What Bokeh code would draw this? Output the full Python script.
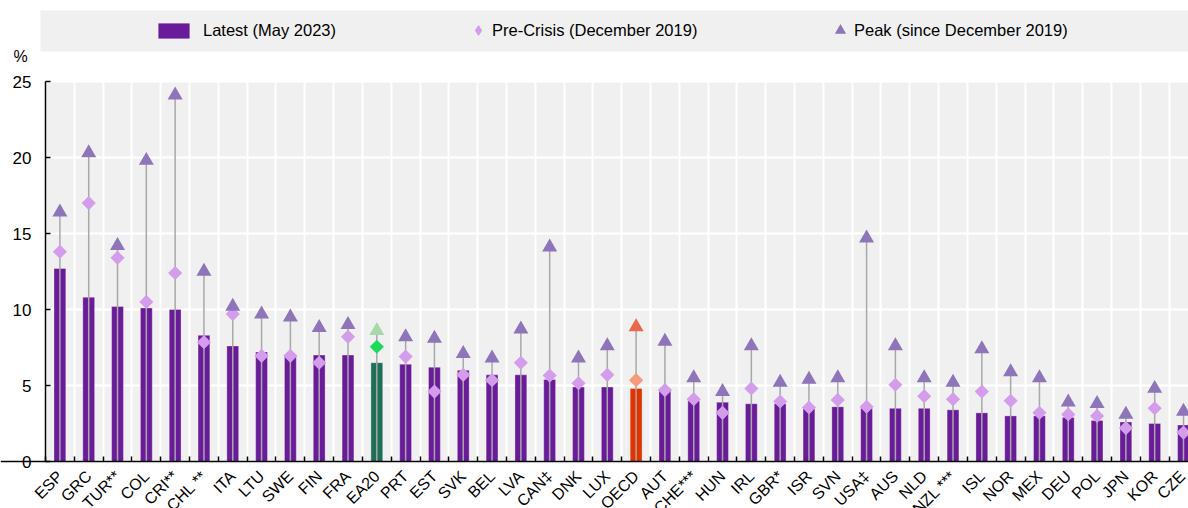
import numpy as np
from math import pi
from bokeh.plotting import figure
from bokeh.models import (ColumnDataSource, Range1d, FixedTicker, Label, BoxAnnotation,
                          Legend, LegendItem)
from bokeh.layouts import column
from bokeh.embed import file_html
from bokeh.resources import INLINE

# ---------------- data ----------------
countries = ["ESP", "GRC", "TUR**", "COL", "CRI**", "CHL **", "ITA", "LTU", "SWE", "FIN",
             "FRA", "EA20", "PRT", "EST", "SVK", "BEL", "LVA", "CAN‡", "DNK", "LUX",
             "OECD", "AUT", "CHE***", "HUN", "IRL", "GBR*", "ISR", "SVN", "USA‡", "AUS",
             "NLD", "NZL ***", "ISL", "NOR", "MEX", "DEU", "POL", "JPN", "KOR", "CZE"]
latest = [12.7, 10.8, 10.2, 10.1, 10.0, 8.3, 7.6, 7.2, 7.0, 7.0,
          7.0, 6.5, 6.4, 6.2, 6.0, 5.7, 5.7, 5.4, 4.9, 4.9,
          4.8, 4.7, 4.0, 3.9, 3.8, 3.8, 3.5, 3.6, 3.5, 3.5,
          3.5, 3.4, 3.2, 3.0, 3.0, 2.9, 2.7, 2.6, 2.5, 2.4]
pre_crisis = [13.8, 17.0, 13.4, 10.5, 12.4, 7.85, 9.7, 6.95, 6.95, 6.5,
              8.2, 7.55, 6.9, 4.6, 5.7, 5.35, 6.5, 5.65, 5.15, 5.7,
              5.35, 4.7, 4.1, 3.2, 4.8, 3.95, 3.55, 4.05, 3.6, 5.05,
              4.3, 4.1, 4.6, 4.0, 3.2, 3.1, 3.0, 2.2, 3.5, 1.9]
peak = [16.4, 20.3, 14.2, 19.8, 24.1, 12.5, 10.2, 9.7, 9.5, 8.8,
        9.0, 8.6, 8.2, 8.1, 7.1, 6.8, 8.7, 14.1, 6.8, 7.6,
        8.85, 7.9, 5.5, 4.6, 7.6, 5.2, 5.4, 5.5, 14.7, 7.6,
        5.5, 5.2, 7.4, 5.9, 5.5, 3.9, 3.8, 3.1, 4.8, 3.3]
legend_labels = ["Latest (May 2023)", "Pre-Crisis (December 2019)", "Peak (since December 2019)"]
y_ticks = [0, 5, 10, 15, 20, 25]
unit_label = "%"

# ---------------- styles / layout ----------------
FONT = "Liberation Sans"
BG = "#F0F0F0"
DEFAULT_COLS = ("#6A1B9A", "#D49DEB", "#8E74B8")
HIGHLIGHT = {"EA20": ("#1F6F57", "#1EDC5A", "#A8D8A8"),
             "OECD": ("#E23200", "#F59A7A", "#E8694E")}
PAGE_W, PAGE_H = 1188, 508
STRIP_H = 71            # legend strip height (page px)
FRAME_LEFT = 45         # page x of the y axis
FRAME_TOP = 81          # page y of y = 25
AXIS_Y = 461            # page y of y = 0
CAT_PX = 28.81          # width of one category slot in px
Y_MAX = 25

px_per_unit = (AXIS_Y - FRAME_TOP) / Y_MAX
y_min = -(PAGE_H - AXIS_Y) / px_per_unit
y_top = Y_MAX + (FRAME_TOP - STRIP_H) / px_per_unit
x_start = -FRAME_LEFT / CAT_PX
x_end = (PAGE_W - FRAME_LEFT) / CAT_PX

n = len(countries)
xs = np.arange(n) + 0.5
cols = [HIGHLIGHT.get(c, DEFAULT_COLS) for c in countries]

src = ColumnDataSource(dict(
    x=xs, name=countries, latest=latest, pre=pre_crisis, peak=peak,
    zero=[0] * n,
    bar_c=[c[0] for c in cols], dia_c=[c[1] for c in cols], tri_c=[c[2] for c in cols],
))

# ---------------- main chart ----------------
p = figure(width=PAGE_W, height=PAGE_H - STRIP_H,
           x_range=Range1d(x_start, x_end), y_range=Range1d(y_min, y_top),
           output_backend="svg", toolbar_location=None,
           min_border_left=0, min_border_right=0, min_border_top=0, min_border_bottom=0,
           background_fill_color="white", border_fill_color="white", outline_line_color=None)

# grey plot area between 0 and 25 (grid lines are drawn above it)
p.add_layout(BoxAnnotation(left=0, bottom=0, top=Y_MAX, fill_color=BG, fill_alpha=1,
                           line_color=None, level="image"))

p.vbar(x="x", top="latest", bottom=0, width=0.41, fill_color="bar_c",
       line_color="white", line_alpha=0.3, line_width=1, source=src)
p.segment(x0="x", y0="zero", x1="x", y1="peak", line_color="#A8A8A8", line_width=1.5, source=src)
p.scatter(x="x", y="pre", marker="square", angle=pi / 4, size=10,
          fill_color="dia_c", line_color=None, source=src)
p.scatter(x="x", y="peak", marker="triangle", size=15,
          fill_color="tri_c", line_color=None, source=src)

bounds = list(range(n + 1))
centers = [float(v) for v in xs]
xa = p.xaxis[0]
xa.fixed_location = 0
xa.ticker = FixedTicker(ticks=centers, minor_ticks=bounds)
xa.major_label_overrides = {c: name for c, name in zip(centers, countries)}
xa.major_label_orientation = pi / 4
xa.major_label_text_font = FONT
xa.major_label_text_font_size = "16px"
xa.major_label_text_color = "black"
xa.major_label_standoff = 12
xa.major_tick_in = 0
xa.major_tick_out = 0
xa.minor_tick_in = 5
xa.minor_tick_out = 0
xa.minor_tick_line_color = "black"
xa.minor_tick_line_width = 1.5
xa.axis_line_color = "black"
xa.axis_line_width = 1.5

ya = p.yaxis[0]
ya.fixed_location = 0
ya.ticker = FixedTicker(ticks=y_ticks)
ya.bounds = (0, Y_MAX)
ya.axis_line_color = "black"
ya.axis_line_width = 1.5
ya.major_tick_line_color = "black"
ya.major_tick_line_width = 1.5
ya.major_tick_in = 5
ya.major_tick_out = 0
ya.minor_tick_in = 0
ya.minor_tick_out = 0
ya.major_label_text_font = FONT
ya.major_label_text_font_size = "17px"
ya.major_label_text_color = "black"
ya.major_label_standoff = 14

p.xgrid.ticker = FixedTicker(ticks=bounds)
p.ygrid.ticker = FixedTicker(ticks=y_ticks)
for g in (p.xgrid[0], p.ygrid[0]):
    g.grid_line_color = "white"
    g.grid_line_width = 2

# ---------------- legend strip ----------------
pl = figure(width=PAGE_W, height=STRIP_H, x_range=Range1d(0, PAGE_W), y_range=Range1d(0, STRIP_H),
            output_backend="svg", toolbar_location=None,
            x_axis_location=None, y_axis_location=None,
            min_border_left=0, min_border_right=0, min_border_top=0, min_border_bottom=0,
            background_fill_color="white", border_fill_color="white", outline_line_color=None)
pl.grid.visible = False

# grey band behind the legend (strip coordinates are pixels, y measured upward)
pl.add_layout(BoxAnnotation(left=40, right=PAGE_W, bottom=STRIP_H - 51, top=STRIP_H - 10,
                            fill_color=BG, fill_alpha=1, line_color=None, level="image"))

# hidden renderers that only provide the legend swatches
r_bar = pl.vbar(x="x", top="latest", width=0.41, fill_color="bar_c", line_color=None,
                source=src, visible=False)
r_dia = pl.scatter(x="x", y="pre", marker="diamond", size=11,
                   fill_color="dia_c", line_color=None, source=src, visible=False)
r_tri = pl.scatter(x="x", y="peak", marker="triangle", size=11,
                   fill_color="tri_c", line_color=None, source=src, visible=False)

def make_legend(label, rend, loc, gw, gh, standoff):
    return Legend(items=[LegendItem(label=label, renderers=[rend])], location=loc,
                  orientation="horizontal", glyph_width=gw, glyph_height=gh,
                  label_height=gh, label_standoff=standoff, padding=0, margin=0,
                  border_line_color=None, background_fill_alpha=0,
                  inactive_fill_alpha=0,
                  label_text_font=FONT, label_text_font_size="16.5px",
                  label_text_color="black")

pl.add_layout(make_legend(legend_labels[0], r_bar, (154, 31), 39, 19, 10), "center")
pl.add_layout(make_legend(legend_labels[1], r_dia, (464, 27), 28, 28, -9), "center")
pl.add_layout(make_legend(legend_labels[2], r_tri, (826, 27), 28, 28, -4), "center")

pl.add_layout(Label(x=13, y=STRIP_H - 56, text=unit_label,
                    text_font=FONT, text_font_size="16px", text_color="black",
                    text_baseline="alphabetic"))

layout = column(pl, p, spacing=0)
open("out.html", "w").write(file_html(layout, INLINE))
